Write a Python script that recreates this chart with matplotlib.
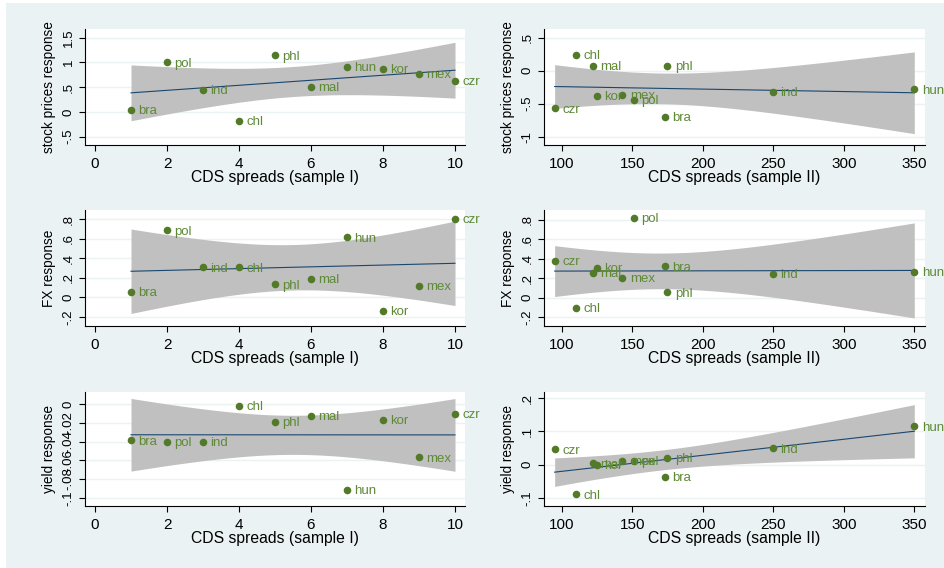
import numpy as np
import matplotlib
matplotlib.use("Agg")
import matplotlib.pyplot as plt
from matplotlib.patches import Rectangle

plt.rcParams['font.family'] = ['Liberation Sans', 'DejaVu Sans']

# ---- data -------------------------------------------------------------
countries_1 = ["bra", "pol", "ind", "chl", "phl", "mal", "hun", "kor", "mex", "czr"]
cds_sample1 = [1, 2, 3, 4, 5, 6, 7, 8, 9, 10]
stock_resp_1 = [0.047, 1.0, 0.45, -0.18, 1.143, 0.5, 0.915, 0.874, 0.767, 0.632]
fx_resp_1 = [0.058, 0.684, 0.306, 0.306, 0.133, 0.191, 0.613, -0.136, 0.119, 0.80]
yield_resp_1 = [-0.0386, -0.0404, -0.0404, -0.0014, -0.0186, -0.0125,
                -0.0918, -0.0164, -0.0568, -0.010]

countries_2 = ["czr", "chl", "mal", "kor", "mex", "pol", "bra", "phl", "ind", "hun"]
cds_sample2 = [95, 110, 122, 125, 143, 151, 173, 175, 250, 350]
stock_resp_2 = [-0.571, 0.242, 0.071, -0.379, -0.364, -0.444, -0.697, 0.071, -0.323, -0.283]
fx_resp_2 = [0.376, -0.103, 0.252, 0.307, 0.203, 0.817, 0.321, 0.052, 0.245, 0.266]
yield_resp_2 = [0.046, -0.090, 0.004, 0.0, 0.012, 0.012, -0.037, 0.021, 0.049, 0.115]

xticks_1 = [0, 2, 4, 6, 8, 10]
xticks_2 = [100, 150, 200, 250, 300, 350]
xlabel_1 = "CDS spreads (sample I)"
xlabel_2 = "CDS spreads (sample II)"

stock_ticks_1 = [-0.5, 0, 0.5, 1, 1.5]
stock_ticklabels_1 = ["-.5", "0", ".5", "1", "1.5"]
stock_ticks_2 = [-1, -0.5, 0, 0.5]
stock_ticklabels_2 = ["-1", "-.5", "0", ".5"]
fx_ticks = [-0.2, 0, 0.2, 0.4, 0.6, 0.8]
fx_ticklabels = ["-.2", "0", ".2", ".4", ".6", ".8"]
yield_ticks_1 = [-0.1, -0.08, -0.06, -0.04, -0.02, 0]
yield_ticklabels_1 = ["-.1", "-.08", "-.06", "-.04", "-.02", "0"]
yield_ticks_2 = [-0.1, 0, 0.1, 0.2]
yield_ticklabels_2 = ["-.1", "0", ".1", ".2"]

# ---- styling ----------------------------------------------------------
BG = "#EAF2F3"
MARKER = "#527A29"
LABEL = "#5E8A37"
FIT = "#1A476F"
BAND = "#C0C0C0"
T_CRIT = 2.306  # 97.5% t quantile, 8 degrees of freedom

W, H = 944, 568
fig = plt.figure(figsize=(W / 100, H / 100), dpi=100, facecolor="white")
fig.patches.append(Rectangle((6 / W, 0), 1 - 6 / W, 1 - 3 / H,
                             transform=fig.transFigure, facecolor=BG,
                             edgecolor="none", zorder=-10))


def fit_band(x, y):
    x = np.asarray(x, float)
    y = np.asarray(y, float)
    n = len(x)
    b1, b0 = np.polyfit(x, y, 1)
    resid = y - (b0 + b1 * x)
    s = np.sqrt(np.sum(resid ** 2) / (n - 2))
    xs = np.linspace(x.min(), x.max(), 100)
    yhat = b0 + b1 * xs
    se = s * np.sqrt(1 / n + (xs - x.mean()) ** 2 / np.sum((x - x.mean()) ** 2))
    return xs, yhat, yhat - T_CRIT * se, yhat + T_CRIT * se


def panel(rect_px, x, y, names, xlim, ylim, xticks, yticks, yticklabels,
          xlabel, ylabel):
    l, t, r, b = rect_px
    ax = fig.add_axes([l / W, 1 - b / H, (r - l) / W, (b - t) / H])
    ax.set_facecolor("white")
    for side in ("top", "right"):
        ax.spines[side].set_visible(False)
    for side in ("left", "bottom"):
        ax.spines[side].set_color("black")
        ax.spines[side].set_linewidth(0.8)
    ax.set_axisbelow(True)
    ax.yaxis.grid(True, color=BG, linewidth=1.0)

    xs, yhat, lo, hi = fit_band(x, y)
    ax.fill_between(xs, lo, hi, color=BAND, linewidth=0, zorder=1)
    ax.plot(xs, yhat, color=FIT, linewidth=0.8, zorder=2)
    ax.scatter(x, y, s=30, color=MARKER, linewidths=0, zorder=3)
    for xi, yi, nm in zip(x, y, names):
        ax.annotate(nm, (xi, yi), xytext=(5.3, -0.9), textcoords="offset points",
                    ha="left", va="center", fontsize=9.5, color=LABEL,
                    annotation_clip=False, zorder=4)

    ax.set_xlim(*xlim)
    ax.set_ylim(*ylim)
    ax.set_xticks(xticks)
    ax.set_xticklabels([str(v) for v in xticks])
    ax.set_yticks(yticks)
    ax.set_yticklabels(yticklabels, rotation=90, va="center")
    ax.tick_params(axis="x", length=4, width=0.8, pad=4.5, labelsize=11)
    ax.tick_params(axis="y", length=4, width=0.8, pad=3.5, labelsize=9.5)

    ax.set_xlabel(xlabel, fontsize=11.3)
    ax.xaxis.set_label_coords(0.5, -0.215)
    ax.set_ylabel(ylabel, fontsize=9.8)
    ax.yaxis.set_label_coords(-0.075, 0.5)
    return ax


cols = [(85, 465), (544, 925)]
rows = [(28.7, 145), (210, 325.7), (391.7, 506)]

panel((cols[0][0], rows[0][0], cols[0][1], rows[0][1]), cds_sample1, stock_resp_1,
      countries_1, (-0.278, 10.278), (-0.669, 1.683), xticks_1,
      stock_ticks_1, stock_ticklabels_1, xlabel_1, "stock prices response")
panel((cols[1][0], rows[0][0], cols[1][1], rows[0][1]), cds_sample2, stock_resp_2,
      countries_2, (87.45, 357.6), (-1.127, 0.637), xticks_2,
      stock_ticks_2, stock_ticklabels_2, xlabel_2, "stock prices response")

panel((cols[0][0], rows[1][0], cols[0][1], rows[1][1]), cds_sample1, fx_resp_1,
      countries_1, (-0.278, 10.278), (-0.289, 0.892), xticks_1,
      fx_ticks, fx_ticklabels, xlabel_1, "FX response")
panel((cols[1][0], rows[1][0], cols[1][1], rows[1][1]), cds_sample2, fx_resp_2,
      countries_2, (87.45, 357.6), (-0.29, 0.90), xticks_2,
      fx_ticks, fx_ticklabels, xlabel_2, "FX response")

panel((cols[0][0], rows[2][0], cols[0][1], rows[2][1]), cds_sample1, yield_resp_1,
      countries_1, (-0.278, 10.278), (-0.1089, 0.0135), xticks_1,
      yield_ticks_1, yield_ticklabels_1, xlabel_1, "yield response")
panel((cols[1][0], rows[2][0], cols[1][1], rows[2][1]), cds_sample2, yield_resp_2,
      countries_2, (87.45, 357.6), (-0.125, 0.22), xticks_2,
      yield_ticks_2, yield_ticklabels_2, xlabel_2, "yield response")

fig.savefig("out.png", dpi=100, facecolor=fig.get_facecolor())
